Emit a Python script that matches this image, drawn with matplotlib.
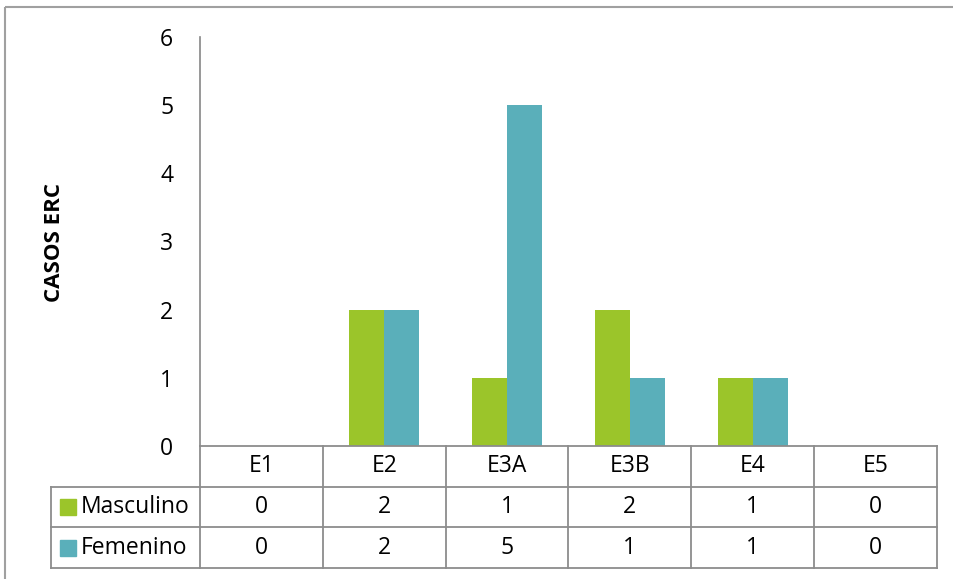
import matplotlib
matplotlib.use("Agg")
import matplotlib.pyplot as plt
from matplotlib.transforms import Affine2D
from matplotlib.patches import Rectangle

# -- Donnees
categorias = ["E1", "E2", "E3A", "E3B", "E4", "E5"]
masculino = [0, 2, 1, 2, 1, 0]
femenino = [0, 2, 5, 1, 1, 0]
series = ["Masculino", "Femenino"]
colores = ["#9BC52A", "#5AAFBA"]
yticks = [0, 1, 2, 3, 4, 5, 6]

W, H = 954, 579
plt.rcParams["font.family"] = ["Open Sans", "DejaVu Sans"]
fs = 16.5

fig = plt.figure(figsize=(W / 100, H / 100), dpi=100)
px = Affine2D().scale(1 / W, -1 / H).translate(0, 1) + fig.transFigure

# -- Zone du graphique (pixels)
x0, x1 = 200, 937
y0, y1 = 446, 37
ax = fig.add_axes([x0 / W, 1 - y0 / H, (x1 - x0) / W, (y0 - y1) / H])

n = len(categorias)
bw = 0.285
xs = list(range(n))
ax.bar([x - bw / 2 for x in xs], masculino, bw, color=colores[0], zorder=3)
ax.bar([x + bw / 2 for x in xs], femenino, bw, color=colores[1], zorder=3)

ax.set_xlim(-0.5, n - 0.5)
ax.set_ylim(0, 6)
ax.set_yticks(yticks)
ax.set_xticks([])
for s in ["top", "right", "bottom"]:
    ax.spines[s].set_visible(False)
ax.spines["left"].set_color("#868686")
ax.spines["left"].set_linewidth(1.2)
ax.tick_params(axis="y", length=0, pad=24, labelsize=fs)
for lab in ax.get_yticklabels():
    lab.set_horizontalalignment("center")

fig.text(55 / W, 1 - 242 / H, "CASOS ERC", rotation=90, ha="center", va="center",
         fontsize=16, fontweight="bold")

# -- Tableau de donnees
gris = "#8c8c8c"
colw = (x1 - x0) / n
rows = [446, 487, 527, 568]
lx = 51

def linea(xa, ya, xb, yb):
    fig.add_artist(plt.Line2D([xa, xb], [ya, yb], transform=px, color=gris, lw=1.3))

linea(x0, rows[0], x1, rows[0])
linea(lx, rows[1], x1, rows[1])
linea(lx, rows[2], x1, rows[2])
linea(lx, rows[3], x1, rows[3])
linea(lx, rows[1], lx, rows[3])
for i in range(n + 1):
    linea(x0 + i * colw, rows[0], x0 + i * colw, rows[3])

for i, c in enumerate(categorias):
    fig.text(0, 0, c, transform=Affine2D().translate(x0 + (i + 0.5) * colw, (rows[0] + rows[1]) / 2) + px,
             ha="center", va="center", fontsize=fs)

valores = [masculino, femenino]
for r, (nom, vals, col) in enumerate(zip(series, valores, colores)):
    yc = (rows[r + 1] + rows[r + 2]) / 2
    fig.add_artist(Rectangle((60, yc - 8), 16, 16, transform=px, color=col))
    fig.text(0, 0, nom, transform=Affine2D().translate(81, yc) + px,
             ha="left", va="center", fontsize=fs)
    for i, v in enumerate(vals):
        fig.text(0, 0, str(v), transform=Affine2D().translate(x0 + (i + 0.5) * colw, yc) + px,
                 ha="center", va="center", fontsize=fs)

# -- Cadre exterieur
fig.add_artist(Rectangle((5, 7), 960, 600, transform=px, fill=False, ec="#a0a0a0", lw=1.5))

fig.savefig("out.png", dpi=100)
